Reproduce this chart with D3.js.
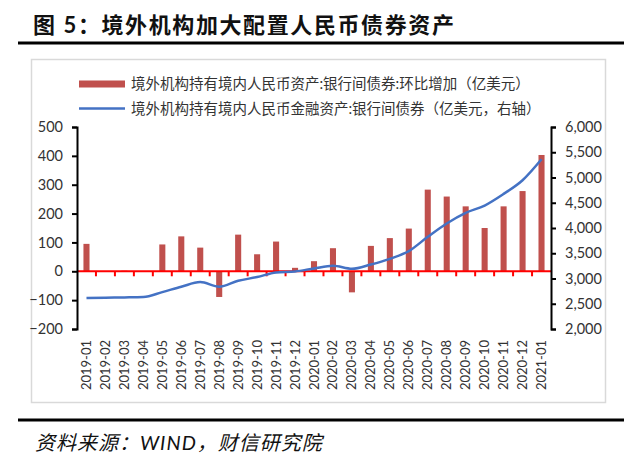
<html>
<head>
<meta charset="utf-8">
<script src="https://cdnjs.cloudflare.com/ajax/libs/d3/7.8.5/d3.min.js"></script>
<style>
  body { margin: 0; background: #fff; }
  svg text { font-family: Lato, "Noto Sans CJK SC", sans-serif; }
</style>
</head>
<body>
<div class="chart"></div>
<script>
const width = 640;
const height = 466;

// months on the x axis
const categories = [
  "2019-01", "2019-02", "2019-03", "2019-04", "2019-05", "2019-06", "2019-07",
  "2019-08", "2019-09", "2019-10", "2019-11", "2019-12", "2020-01", "2020-02",
  "2020-03", "2020-04", "2020-05", "2020-06", "2020-07", "2020-08", "2020-09",
  "2020-10", "2020-11", "2020-12", "2021-01"
];
// monthly change (bars, left axis)
const barValues = [95, 0, 2, 0, 93, 121, 82, -89, 127, 59, 103, 12, 35, 80, -73,
  88, 115, 148, 283, 259, 225, 150, 225, 278, 403];
// holdings (line, right axis)
const lineValues = [2613, 2620, 2625, 2633, 2731, 2837, 2929, 2837, 2955, 3028,
  3121, 3140, 3200, 3252, 3192, 3278, 3390, 3542, 3825, 4090, 4300, 4445, 4675,
  4946, 5361];
const leftTicks = [-200, -100, 0, 100, 200, 300, 400, 500];
const rightTicks = [2000, 2500, 3000, 3500, 4000, 4500, 5000, 5500, 6000];
const barLabel = "境外机构持有境内人民币资产:银行间债券:环比增加（亿美元）";
const lineLabel = "境外机构持有境内人民币金融资产:银行间债券（亿美元，右轴）";
const title = "图 5：境外机构加大配置人民币债券资产";
const source = "资料来源：WIND，财信研究院";

const svg = d3.select(".chart").append("svg")
  .attr("width", width).attr("height", height);

const plot = { left: 77, right: 551, top: 127, bottom: 329 };

// Title + rules
svg.append("text").attr("x", 33).attr("y", 33)
  .attr("font-family", "'Noto Sans CJK SC', sans-serif")
  .attr("font-size", 22).attr("font-weight", "bold").attr("fill", "#111")
  .attr("letter-spacing", 1.6)
  .text(title);
svg.append("line").attr("x1", 18).attr("x2", 624).attr("y1", 43).attr("y2", 43)
  .attr("stroke", "#000").attr("stroke-width", 3);

// chart frame
svg.append("rect").attr("x", 31.5).attr("y", 59.5).attr("width", 574).attr("height", 343)
  .attr("fill", "none").attr("stroke", "#d9d9d9").attr("stroke-width", 1.5);

svg.append("line").attr("x1", 18).attr("x2", 624).attr("y1", 420).attr("y2", 420)
  .attr("stroke", "#000").attr("stroke-width", 3);
svg.append("text").attr("x", 35).attr("y", 450)
  .attr("font-family", "'Noto Sans CJK SC', serif")
  .attr("font-size", 20).attr("font-style", "italic").attr("fill", "#111")
  .attr("letter-spacing", 1)
  .text(source);

// scales
const x = d3.scaleBand().domain(categories).range([plot.left, plot.right]).padding(0);
const yL = d3.scaleLinear().domain([-200, 500]).range([plot.bottom, plot.top]);
const yR = d3.scaleLinear().domain([2000, 6000]).range([plot.bottom, plot.top]);

// bars
const bw = x.bandwidth() * 0.32;
svg.append("g").selectAll("rect").data(barValues).enter().append("rect")
  .attr("x", (d, i) => x(categories[i]) + x.bandwidth() / 2 - bw / 2)
  .attr("y", d => yL(Math.max(0, d)))
  .attr("width", bw)
  .attr("height", d => Math.abs(yL(d) - yL(0)))
  .attr("fill", "#C0504D");

// red zero axis with ticks at band boundaries
const zero = svg.append("g").attr("transform", `translate(0,${yL(0)})`);
zero.append("line").attr("x1", plot.left).attr("x2", plot.right)
  .attr("stroke", "#FF0000").attr("stroke-width", 2);
zero.selectAll(".tk").data(categories.slice(1)).enter().append("line")
  .attr("x1", d => x(d)).attr("x2", d => x(d)).attr("y1", 0).attr("y2", 5)
  .attr("stroke", "#FF0000").attr("stroke-width", 2);

// line
const line = d3.line()
  .x((d, i) => x(categories[i]) + x.bandwidth() / 2)
  .y(d => yR(d))
  .curve(d3.curveMonotoneX);
svg.append("path").datum(lineValues).attr("d", line)
  .attr("fill", "none").attr("stroke", "#4472C4").attr("stroke-width", 2.5);

// axes
const gL = svg.append("g").attr("transform", `translate(${plot.left},0)`)
  .call(d3.axisLeft(yL).tickValues(leftTicks).tickSize(5).tickPadding(9));
const gR = svg.append("g").attr("transform", `translate(${plot.right},0)`)
  .call(d3.axisRight(yR).tickValues(rightTicks).tickSize(5).tickPadding(9)
    .tickFormat(d3.format(",")));
[gL, gR].forEach(g => {
  g.selectAll("path, line").attr("stroke", "#000").attr("stroke-width", 2);
  g.selectAll("text").attr("font-size", 14.5).attr("fill", "#333");
});

// x labels
svg.append("g").selectAll("text").data(categories).enter().append("text")
  .attr("transform", d => `translate(${x(d) + x.bandwidth() / 2 + 4.5},340) rotate(-90)`)
  .attr("text-anchor", "end")
  .attr("font-size", 13).attr("fill", "#333")
  .text(d => d);

// legend
const lg = svg.append("g").attr("font-family", "'Noto Sans CJK SC', sans-serif");
lg.append("rect").attr("x", 79).attr("y", 80.5).attr("width", 46).attr("height", 7)
  .attr("fill", "#C0504D");
lg.append("text").attr("x", 131).attr("y", 89).attr("font-size", 14.5)
  .attr("fill", "#333").text(barLabel);
lg.append("line").attr("x1", 79).attr("x2", 125).attr("y1", 108.5).attr("y2", 108.5)
  .attr("stroke", "#4472C4").attr("stroke-width", 2.5);
lg.append("text").attr("x", 131).attr("y", 113.5).attr("font-size", 14.5)
  .attr("fill", "#333").text(lineLabel);
</script>
</body>
</html>
